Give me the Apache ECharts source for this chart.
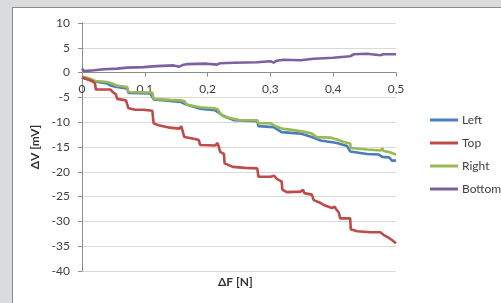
<!DOCTYPE html>
<html><head><meta charset="utf-8">
<script src="https://cdn.jsdelivr.net/npm/echarts@6/dist/echarts.min.js"></script>
<style>
html,body{margin:0;padding:0;width:501px;height:303px;overflow:hidden;background:#dadbdc;}
#frame{position:absolute;left:12px;top:7px;right:0;bottom:0;background:#fff;border-left:1px solid #8a8a8a;border-top:1px solid #8a8a8a;}
#chart{position:absolute;left:0;top:0;width:501px;height:303px;}
</style></head>
<body>
<div id="frame"></div>
<div id="chart"></div>
<script>
const seriesNames = ['Left', 'Top', 'Right', 'Bottom'];
const xTicks = [0, 0.1, 0.2, 0.3, 0.4, 0.5];
const yTicks = [10, 5, 0, -5, -10, -15, -20, -25, -30, -35, -40];

const leftData = [[0,-1.0],[0.02,-1.8],[0.04,-2.2],[0.045,-2.6],[0.055,-2.9],[0.072,-3.2],[0.074,-4.1],[0.109,-4.2],[0.114,-5.4],[0.14,-5.7],[0.157,-5.9],[0.165,-6.4],[0.188,-7.3],[0.212,-7.6],[0.218,-8.1],[0.223,-8.6],[0.242,-9.6],[0.279,-9.8],[0.281,-10.8],[0.305,-11.0],[0.318,-12.0],[0.348,-12.3],[0.366,-13.0],[0.38,-13.7],[0.406,-14.2],[0.422,-14.8],[0.427,-15.9],[0.454,-16.4],[0.472,-16.5],[0.478,-17.0],[0.489,-17.1],[0.494,-17.8],[0.5,-17.7]];

const topData = [[0,-1.0],[0.012,-1.5],[0.019,-1.9],[0.021,-2.4],[0.022,-3.4],[0.045,-3.4],[0.05,-4.0],[0.054,-4.4],[0.056,-5.3],[0.07,-5.6],[0.072,-6.0],[0.074,-7.2],[0.085,-7.5],[0.098,-7.5],[0.112,-7.7],[0.114,-10.2],[0.122,-10.6],[0.14,-11.1],[0.155,-11.3],[0.158,-10.8],[0.161,-11.2],[0.163,-13.0],[0.18,-13.4],[0.186,-13.6],[0.188,-14.6],[0.212,-14.7],[0.216,-14.2],[0.218,-15.0],[0.22,-16.0],[0.226,-16.4],[0.227,-18.3],[0.24,-19.0],[0.26,-19.2],[0.279,-19.3],[0.281,-21.0],[0.3,-21.0],[0.306,-20.8],[0.31,-21.4],[0.318,-22.0],[0.319,-23.6],[0.326,-24.1],[0.348,-24.0],[0.352,-23.6],[0.354,-24.3],[0.366,-24.6],[0.369,-25.7],[0.38,-26.3],[0.387,-26.8],[0.398,-27.3],[0.402,-27.0],[0.405,-27.6],[0.409,-28.2],[0.411,-29.4],[0.427,-29.4],[0.428,-31.6],[0.438,-32.0],[0.46,-32.2],[0.475,-32.2],[0.477,-31.8],[0.48,-32.7],[0.486,-33.1],[0.494,-33.8],[0.5,-34.4]];

const rightData = [[0,-0.8],[0.01,-1.1],[0.021,-1.7],[0.04,-1.9],[0.048,-2.2],[0.055,-2.6],[0.056,-2.9],[0.072,-2.9],[0.074,-3.9],[0.108,-4.0],[0.11,-3.6],[0.112,-4.0],[0.114,-5.3],[0.14,-5.5],[0.157,-5.6],[0.16,-5.2],[0.163,-5.8],[0.167,-6.5],[0.188,-7.0],[0.21,-7.2],[0.213,-6.9],[0.216,-7.4],[0.22,-8.2],[0.226,-8.9],[0.252,-9.6],[0.279,-9.6],[0.281,-10.2],[0.3,-10.2],[0.305,-10.6],[0.318,-11.3],[0.337,-11.6],[0.356,-12.0],[0.366,-12.3],[0.374,-13.0],[0.395,-13.1],[0.406,-13.5],[0.417,-14.0],[0.427,-14.3],[0.428,-15.2],[0.454,-15.5],[0.476,-15.7],[0.478,-15.2],[0.48,-15.8],[0.489,-16.0],[0.5,-16.5]];

const bottomData = [[0,0.8],[0.003,0.3],[0.019,0.46],[0.035,0.66],[0.056,0.8],[0.072,1.0],[0.098,1.1],[0.119,1.3],[0.146,1.45],[0.155,1.2],[0.162,1.6],[0.167,1.7],[0.199,1.8],[0.215,1.6],[0.22,1.9],[0.242,2.0],[0.279,2.1],[0.3,2.3],[0.305,2.0],[0.31,2.4],[0.321,2.6],[0.348,2.5],[0.369,2.8],[0.4,3.0],[0.427,3.3],[0.433,3.7],[0.454,3.8],[0.475,3.5],[0.48,3.7],[0.5,3.7]];

const colors = ['#4a7ebb', '#be4b48', '#98b954', '#7d60a0'];
const allData = [leftData, topData, rightData, bottomData];
const font = 'Lato, "Open Sans", sans-serif';

const yMin = -40, yMax = 10;
const gridTop = 23, gridBottom = 32, chartH = 303;
const plotH = chartH - gridTop - gridBottom;
// shift the x axis so that it sits on the zero line of the y axis
const xAxisOffset = -plotH * (0 - yMin) / (yMax - yMin);

const chart = echarts.init(document.getElementById('chart'), null, {renderer: 'canvas'});
chart.setOption({
  animation: false,
  color: colors,
  textStyle: {fontFamily: font},
  grid: {left: 82, right: 105, top: gridTop, bottom: gridBottom, containLabel: false},
  legend: {
    orient: 'vertical', left: 425, top: 109, itemWidth: 28, itemHeight: 3, itemGap: 11,
    icon: 'rect', data: seriesNames,
    textStyle: {fontFamily: font, fontSize: 12, color: '#404040', padding: [0,0,0,-1]}
  },
  graphic: [{type: 'text', style: {text: 'ΔF [N]', font: 'bold 12px ' + font, fill: '#333'}, left: 218, top: 276}],
  xAxis: {
    type: 'value', min: 0, max: 0.5, interval: 0.1, position: 'bottom', offset: xAxisOffset,
    axisLine: {onZero: false, lineStyle: {color: '#8c8c8c'}},
    axisTick: {show: true, length: 4, lineStyle: {color: '#8c8c8c'}},
    axisLabel: {color: '#404040', fontSize: 12, margin: 11, fontFamily: font,
      formatter: v => xTicks.indexOf(v) >= 0 ? String(v).replace('.', ',') : ''},
    splitLine: {show: false}
  },
  yAxis: {
    type: 'value', min: yMin, max: yMax, interval: 5,
    name: 'ΔV [mV]', nameLocation: 'middle', nameGap: 27, nameRotate: 90,
    nameTextStyle: {fontWeight: 'bold', fontSize: 12, color: '#333', fontFamily: font},
    axisLine: {show: true, onZero: false, lineStyle: {color: '#8c8c8c'}},
    axisTick: {show: true, length: 4, lineStyle: {color: '#8c8c8c'}},
    axisLabel: {color: '#404040', fontSize: 12, margin: 12, fontFamily: font,
      formatter: v => yTicks.indexOf(v) >= 0 ? String(v) : ''},
    splitLine: {show: true, lineStyle: {color: '#d9d9d9', width: 1}}
  },
  series: seriesNames.map((n, i) => ({
    name: n, type: 'line', data: allData[i], showSymbol: false, symbol: 'none',
    lineStyle: {width: 2.6, color: colors[i]}, z: i === 1 ? 3 : 2
  }))
});
</script>
</body></html>
